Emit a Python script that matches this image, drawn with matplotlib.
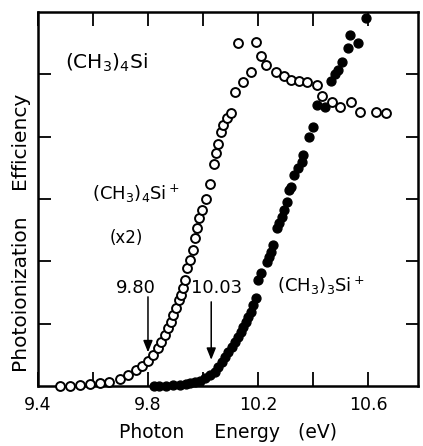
import matplotlib
matplotlib.use("Agg")
import matplotlib.pyplot as plt

# Parent ion (CH3)4Si+ (x2) -- open circles
open_x = [9.480, 9.516, 9.553, 9.589, 9.625, 9.658, 9.698, 9.727, 9.756, 9.778,
          9.800, 9.818, 9.836, 9.847, 9.862, 9.873, 9.884, 9.891, 9.902, 9.913,
          9.920, 9.927, 9.935, 9.942, 9.953, 9.964, 9.971, 9.978, 9.985, 9.996,
          10.011, 10.025, 10.040, 10.047, 10.055, 10.065, 10.073, 10.087, 10.102,
          10.116, 10.145, 10.175, 10.127, 10.193, 10.211, 10.229, 10.265, 10.295,
          10.320, 10.349, 10.378, 10.415, 10.433, 10.469, 10.498, 10.538, 10.571,
          10.629, 10.665]
open_y = [0.0, 0.0, 0.016, 0.032, 0.048, 0.064, 0.112, 0.176, 0.257, 0.321,
          0.401, 0.497, 0.610, 0.706, 0.818, 0.931, 1.027, 1.139, 1.251, 1.380,
          1.460, 1.572, 1.701, 1.893, 2.021, 2.182, 2.374, 2.535, 2.695, 2.824,
          3.000, 3.241, 3.562, 3.738, 3.883, 4.075, 4.187, 4.300, 4.380,
          4.717, 4.877, 5.038, 5.503, 5.519, 5.294, 5.150, 5.038, 4.974,
          4.910, 4.893, 4.877, 4.829, 4.653, 4.556, 4.476, 4.556, 4.396,
          4.396, 4.380]

# Fragment ion (CH3)3Si+ -- filled circles
filled_x = [9.822, 9.840, 9.865, 9.891, 9.916, 9.938, 9.953, 9.971, 9.989, 10.007,
            10.025, 10.044, 10.056, 10.068, 10.080, 10.092, 10.104, 10.116, 10.126,
            10.137, 10.147, 10.156, 10.165, 10.173, 10.182, 10.192, 10.201, 10.210,
            10.232, 10.240, 10.247, 10.255, 10.268, 10.278, 10.286, 10.295, 10.305,
            10.313, 10.320, 10.331, 10.345, 10.360, 10.364, 10.385, 10.400, 10.415,
            10.444, 10.465, 10.480, 10.491, 10.505, 10.527, 10.535, 10.564, 10.593]
filled_y = [0.0, 0.0, 0.008, 0.016, 0.016, 0.032, 0.043, 0.059, 0.085, 0.124,
            0.176, 0.229, 0.310, 0.390, 0.470, 0.550, 0.631, 0.711, 0.791,
            0.871, 0.951, 1.032, 1.112, 1.192, 1.300, 1.412, 1.701, 1.813,
            1.994, 2.074, 2.155, 2.262, 2.530, 2.610, 2.716, 2.824, 2.957,
            3.145, 3.193, 3.385, 3.498, 3.594, 3.706, 3.995, 4.155, 4.508,
            4.476, 4.893, 5.006, 5.070, 5.198, 5.423, 5.631, 5.503, 5.904]

x_major = [9.4, 9.8, 10.2, 10.6]
x_major_labels = ["9.4", "9.8", "10.2", "10.6"]
x_minor = [9.6, 10.0, 10.4]
y_ticks = [1, 2, 3, 4, 5]
thresholds = [9.80, 10.03]
threshold_labels = ["9.80", "10.03"]

plt.rcParams['font.family'] = ['DejaVu Sans']
plt.rcParams['mathtext.fontset'] = 'dejavusans'

fig = plt.figure(figsize=(4.23, 4.46), dpi=100)
ax = fig.add_axes([0.0898, 0.1345, 0.8984, 0.8386])

ax.plot(filled_x, filled_y, linestyle='none', marker='o', markersize=6.4,
        markerfacecolor='black', markeredgecolor='black', markeredgewidth=1.0,
        clip_on=False, zorder=3)
ax.plot(open_x, open_y, linestyle='none', marker='o', markersize=6.4,
        markerfacecolor='white', markeredgecolor='black', markeredgewidth=1.4,
        clip_on=False, zorder=4)

ax.set_xlim(9.4, 10.782)
ax.set_ylim(0, 6)

ax.set_xticks(x_major)
ax.set_xticklabels(x_major_labels)
ax.set_xticks(x_minor, minor=True)
ax.set_yticks(y_ticks)
ax.set_yticklabels([])

ax.tick_params(axis='both', which='both', direction='in', top=True, right=True,
               length=10, width=1.3, labelsize=12.5, pad=7)
ax.tick_params(axis='y', which='both', length=9)
for s in ax.spines.values():
    s.set_linewidth(1.8)

fs = 13
ax.text(9.498, 5.18, r'(CH$_3$)$_4$Si', fontsize=14.5, ha='left', va='center')
ax.text(9.596, 3.08, r'(CH$_3$)$_4$Si$^+$', fontsize=fs, ha='left', va='center')
ax.text(9.662, 2.37, '(x2)', fontsize=fs - 1, ha='left', va='center')
ax.text(10.269, 1.60, r'(CH$_3$)$_3$Si$^+$', fontsize=fs, ha='left', va='center')

ax.text(9.756, 1.57, threshold_labels[0], fontsize=fs, ha='center', va='center')
ax.text(10.051, 1.57, threshold_labels[1], fontsize=fs, ha='center', va='center')

arrowprops = dict(arrowstyle='-|>,head_length=0.7,head_width=0.28', color='black',
                  lw=1.1, shrinkA=0, shrinkB=0)
ax.annotate('', xy=(thresholds[0], 0.54), xytext=(thresholds[0], 1.43),
            arrowprops=arrowprops)
ax.annotate('', xy=(thresholds[1], 0.42), xytext=(thresholds[1], 1.35),
            arrowprops=arrowprops)

ax.set_xlabel('Photon     Energy   (eV)', fontsize=13.5, labelpad=7)
fig.text(0.047, 0.686, 'Efficiency', rotation=90, fontsize=14.5, ha='center', va='center')
fig.text(0.047, 0.345, 'Photoionization', rotation=90, fontsize=14.5, ha='center', va='center')

fig.savefig('out.png', dpi=100)
